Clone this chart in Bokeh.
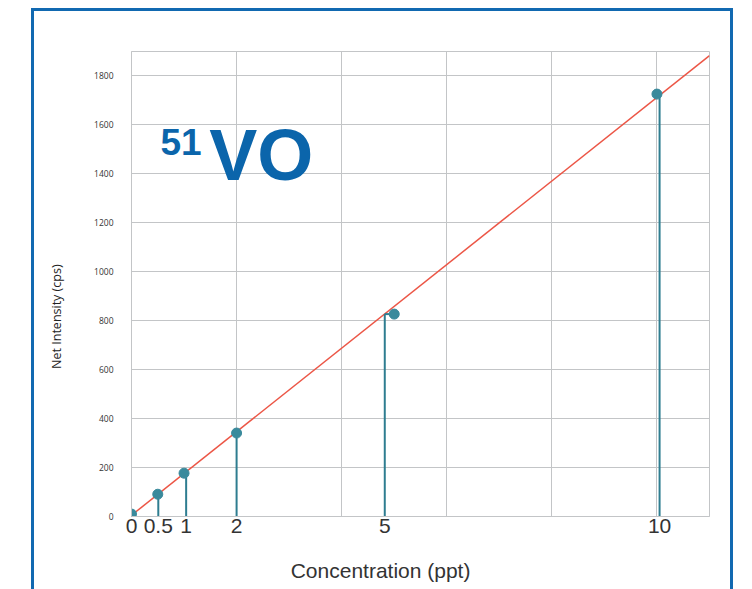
import math
from bokeh.plotting import figure
from bokeh.models import FixedTicker, Label, Range1d, LinearAxis
from bokeh.embed import file_html
from bokeh.resources import INLINE

# ---- data ----
conc = [0, 0.5, 1, 2, 5, 10]                 # ppt
intensity = [10, 91, 177, 341, 827, 1726]    # cps
stem_x = [0, 0.51, 1.04, 2.0, 4.82, 10.05]   # where the stems / tick labels sit
tick_labels = ["0", "0.5", "1", "2", "5", "10"]
fit_x = [0, 11]
fit_y = [5, 1883]
y_ticks = [0, 200, 400, 600, 800, 1000, 1200, 1400, 1600, 1800]
grid_x = [0, 2, 4, 6, 8, 10]
x_title = "Concentration (ppt)"
y_title = "Net Intensity (cps)"
x_title_at = 4.74      # along-axis anchor of the x title (data units)
y_title_at = 1030      # along-axis anchor of the y title (data units)

BLUE = "#0b65ab"
FRAME = "#1169b1"
GRID = "#c3c5c7"
TEAL = "#3a8a9c"
STEM = "#2e7d90"
RED = "#ec5646"

p = figure(width=702, height=581, output_backend="svg", toolbar_location=None,
           x_range=Range1d(0, 11), y_range=Range1d(0, 1900),
           min_border_left=97, min_border_right=27, min_border_top=40, min_border_bottom=76)
p.styles = {"margin-left": "31px",
            "margin-top": "8px",
            "border-top": f"3px solid {FRAME}",
            "border-left": f"3px solid {FRAME}",
            "border-right": f"3px solid {FRAME}"}

p.background_fill_color = "white"
p.border_fill_color = "white"
p.outline_line_color = GRID
p.outline_line_width = 1

# grids
p.xgrid.ticker = FixedTicker(ticks=grid_x)
p.ygrid.ticker = FixedTicker(ticks=y_ticks)
p.xgrid.grid_line_color = GRID
p.ygrid.grid_line_color = GRID
p.xgrid.grid_line_width = 1
p.ygrid.grid_line_width = 1

# x axis
xa = p.xaxis[0]
xa.ticker = FixedTicker(ticks=stem_x)
xa.major_label_overrides = {x: t for x, t in zip(stem_x, tick_labels)}
xa.major_tick_out = 0
xa.major_tick_in = 0
xa.minor_tick_out = 0
xa.minor_tick_in = 0
xa.axis_line_color = GRID
xa.major_label_text_font = "Liberation Sans"
xa.major_label_text_font_size = "21px"
xa.major_label_text_color = "#333333"
xa.major_label_standoff = 2

# y axis
ya = p.yaxis[0]
ya.ticker = FixedTicker(ticks=y_ticks)
ya.major_tick_out = 0
ya.major_tick_in = 0
ya.minor_tick_out = 0
ya.minor_tick_in = 0
ya.axis_line_color = GRID
ya.major_label_text_font = "Open Sans"
ya.major_label_text_font_size = "8.5px"
ya.major_label_text_color = "#333333"
ya.major_label_standoff = 18

# axis titles: carried by tick-less extra axes, placed off-centre as in the original
x_title_axis = LinearAxis(ticker=FixedTicker(ticks=[x_title_at], minor_ticks=[]),
                          major_label_overrides={x_title_at: x_title},
                          axis_line_color=None, major_tick_out=0, major_tick_in=0,
                          minor_tick_out=0, minor_tick_in=0, major_label_standoff=23,
                          major_label_text_font="Liberation Sans",
                          major_label_text_font_size="21px",
                          major_label_text_color="#333333")
p.add_layout(x_title_axis, "below")
y_title_axis = LinearAxis(ticker=FixedTicker(ticks=[y_title_at], minor_ticks=[]),
                          major_label_overrides={y_title_at: y_title},
                          major_label_orientation=math.pi / 2,
                          axis_line_color=None, major_tick_out=0, major_tick_in=0,
                          minor_tick_out=0, minor_tick_in=0, major_label_standoff=35,
                          major_label_text_font="Open Sans",
                          major_label_text_font_size="12.5px",
                          major_label_text_color="#222222")
p.add_layout(y_title_axis, "left")

# fit line
p.line(fit_x, fit_y, line_color=RED, line_width=1.5)

# stems
p.segment(x0=stem_x, y0=[0] * len(stem_x), x1=stem_x, y1=intensity,
          line_color=STEM, line_width=2)
p.segment(x0=stem_x, y0=intensity, x1=conc, y1=intensity,
          line_color=STEM, line_width=2)

# points
p.scatter(conc, intensity, size=10, fill_color=TEAL, line_color=TEAL)

# isotope annotation
p.add_layout(Label(x=0.552, y=1530, text="51", text_align="left", text_baseline="middle",
                   text_font="Liberation Sans", text_font_style="bold",
                   text_font_size="37px", text_color=BLUE))
p.add_layout(Label(x=1.48, y=1477, text="VO", text_align="left", text_baseline="middle",
                   text_font="Liberation Sans", text_font_style="bold",
                   text_font_size="72px", text_color=BLUE))

open("out.html", "w").write(file_html(p, INLINE))
